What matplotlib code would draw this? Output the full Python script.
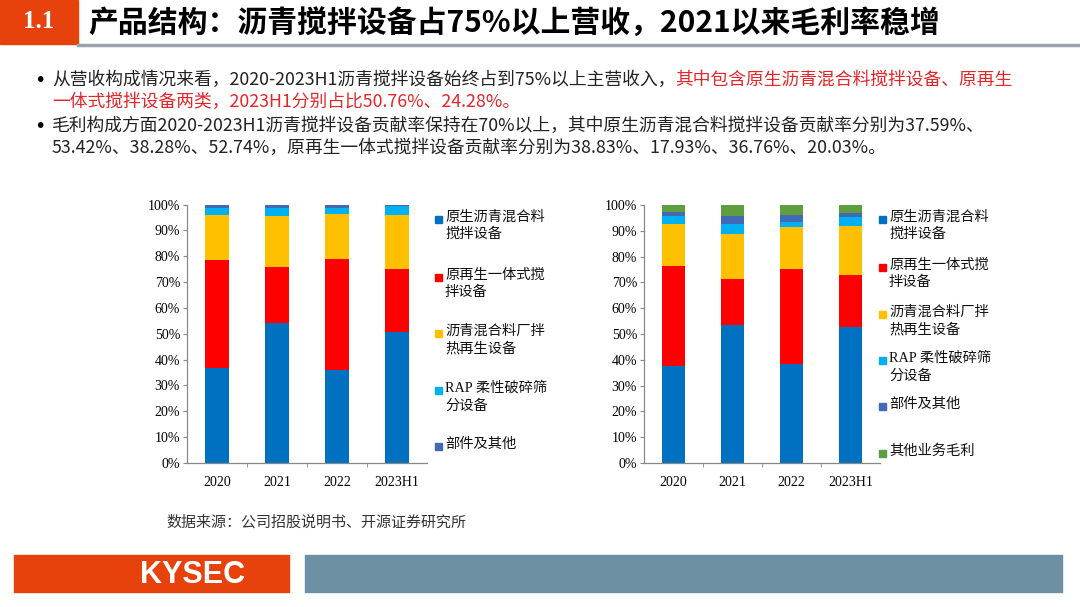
import numpy as np
import matplotlib.pyplot as plt
from matplotlib.patches import Rectangle
from matplotlib.lines import Line2D

# ---- data ----
years = ['2020', '2021', '2022', '2023H1']

# revenue structure (%)
rev_native = [36.9, 54.3, 35.9, 50.76]
rev_integrated = [41.7, 21.7, 42.9, 24.28]
rev_plant_hot = [17.3, 19.5, 17.5, 21.0]
rev_rap = [2.9, 3.3, 2.2, 3.2]
rev_parts = [1.2, 1.2, 1.5, 0.76]

# gross profit structure (%)
gp_native = [37.59, 53.42, 38.28, 52.74]
gp_integrated = [38.83, 17.93, 36.76, 20.03]
gp_plant_hot = [16.1, 17.4, 16.3, 19.2]
gp_rap = [3.2, 3.7, 2.1, 3.5]
gp_parts = [1.7, 3.1, 2.8, 1.3]
gp_other = [2.58, 4.45, 3.76, 3.23]

labels = ['原生沥青混合料\n搅拌设备', '原再生一体式搅\n拌设备', '沥青混合料厂拌\n热再生设备',
          'RAP 柔性破碎筛\n分设备', '部件及其他', '其他业务毛利']
colors = ['#0070C0', '#FF0000', '#FFC000', '#00B0F0', '#4169B5', '#5E9E3E']

ORANGE = '#E8420C'
SERIF_CJK = ['Liberation Serif', 'Noto Sans CJK SC']
CJK = ['Noto Sans CJK SC', 'DejaVu Sans']

W, H = 1080, 607
fig = plt.figure(figsize=(W / 100, H / 100), dpi=100)


def fx(px):
    return px / W


def fy(py):
    return 1 - py / H


# ---- header ----
fig.patches.append(Rectangle((0, fy(44)), fx(78), 44 / H, transform=fig.transFigure,
                             color=ORANGE, zorder=1))
fig.text(fx(39), fy(22), '1.1', color='white', fontsize=18, fontweight='bold',
         family=SERIF_CJK, ha='center', va='center')
fig.text(fx(88), fy(23), '产品结构：沥青搅拌设备占75%以上营收，2021以来毛利率稳增',
         fontsize=21.5, fontweight='bold', family=CJK, ha='left', va='center', color='black')
fig.add_artist(Line2D([fx(78), 1], [fy(45), fy(45)], transform=fig.transFigure,
                      color='#9AA3AB', lw=2.5))

# ---- bullet text ----
fs = 12.8
red = '#E5252A'
lines_y = [80, 102, 126, 148]
fig.text(fx(40), fy(lines_y[0]), '•', fontsize=14, family='DejaVu Sans', va='center', ha='center')
fig.text(fx(40), fy(lines_y[2]), '•', fontsize=14, family='DejaVu Sans', va='center', ha='center')
t1 = fig.text(fx(52), fy(lines_y[0]), '从营收构成情况来看，2020-2023H1沥青搅拌设备始终占到75%以上主营收入，',
              fontsize=fs, family=CJK, va='center', color='#222222')
fig.canvas.draw()
ext = t1.get_window_extent()
fig.text(ext.x1 / W, fy(lines_y[0]), '其中包含原生沥青混合料搅拌设备、原再生',
         fontsize=fs, family=CJK, va='center', color=red)
fig.text(fx(52), fy(lines_y[1]), '一体式搅拌设备两类，2023H1分别占比50.76%、24.28%。',
         fontsize=fs, family=CJK, va='center', color=red)
fig.text(fx(52), fy(lines_y[2]),
         '毛利构成方面2020-2023H1沥青搅拌设备贡献率保持在70%以上，其中原生沥青混合料搅拌设备贡献率分别为37.59%、',
         fontsize=fs, family=CJK, va='center', color='#222222')
fig.text(fx(52), fy(lines_y[3]),
         '53.42%、38.28%、52.74%，原再生一体式搅拌设备贡献率分别为38.83%、17.93%、36.76%、20.03%。',
         fontsize=fs, family=CJK, va='center', color='#222222')


def stacked(ax, series, leg_y, leg_x):
    x = np.arange(len(years))
    bottom = np.zeros(len(years))
    for vals, c in zip(series, colors):
        v = np.array(vals) / 100
        ax.bar(x, v, bottom=bottom, width=0.39, color=c, zorder=2)
        bottom += v
    ax.set_xlim(-0.5, len(years) - 0.5)
    ax.set_ylim(0, 1)
    ax.set_yticks(np.linspace(0, 1, 11))
    ax.set_yticklabels([f'{int(round(v * 100))}%' for v in np.linspace(0, 1, 11)],
                       family='Liberation Serif', fontsize=10)
    ax.set_xticks(x)
    ax.set_xticklabels(years, family='Liberation Serif', fontsize=10)
    ax.set_xticks(np.arange(0.5, len(years) - 0.5), minor=True)
    ax.tick_params(axis='x', which='major', length=0, pad=9)
    ax.tick_params(axis='x', which='minor', length=3, color='#888888')
    ax.tick_params(axis='y', length=3, color='#888888', pad=2)
    for s in ['top', 'right']:
        ax.spines[s].set_visible(False)
    for s in ['left', 'bottom']:
        ax.spines[s].set_color('#888888')
        ax.spines[s].set_linewidth(0.9)
    # legend drawn by hand so the marker sits on the first line of each label
    for i, lab in enumerate(labels[:len(series)]):
        y = leg_y[i]
        fig.patches.append(Rectangle((fx(leg_x - 3.5), fy(y + 3.5)), 7 / W, 7 / H,
                                     transform=fig.transFigure, color=colors[i]))
        fig.text(fx(leg_x + 7), fy(y - 8.5), lab, family=SERIF_CJK, fontsize=10.3,
                 va='top', ha='left', linespacing=1.4, color='#111111')


# left chart: axes px x 187-427, y 204-463
ax1 = fig.add_axes([fx(187), fy(463), fx(427 - 187), (463 - 204.5) / H])
stacked(ax1, [rev_native, rev_integrated, rev_plant_hot, rev_rap, rev_parts],
        [219, 277, 333, 390, 446], 438)

# right chart: axes px x 644-880, y 205-463
ax2 = fig.add_axes([fx(644), fy(463), fx(880 - 644), (463 - 205) / H])
stacked(ax2, [gp_native, gp_integrated, gp_plant_hot, gp_rap, gp_parts, gp_other],
        [219, 267, 314, 360, 406, 453], 882)

# ---- source + footer ----
fig.text(fx(166), fy(522), '数据来源：公司招股说明书、开源证券研究所', fontsize=10.8,
         family=CJK, va='center', color='#333333')
fig.patches.append(Rectangle((fx(14), fy(592)), fx(289 - 14), 37 / H,
                             transform=fig.transFigure, color=ORANGE))
fig.patches.append(Rectangle((fx(305), fy(592)), fx(1062 - 305), 37 / H,
                             transform=fig.transFigure, color='#6E90A3'))
fig.text(fx(193), fy(575), 'KYSEC', color='white', fontsize=22, fontweight='bold',
         family='Liberation Sans', ha='center', va='center')

fig.savefig('out.png', dpi=100)
